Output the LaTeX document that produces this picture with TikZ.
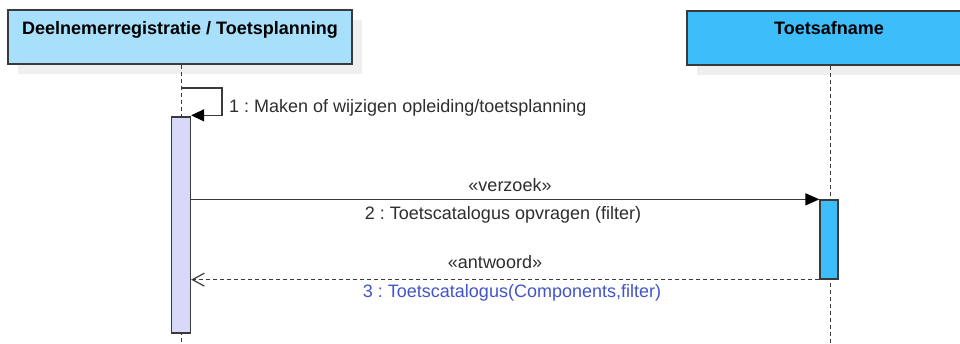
\documentclass[tikz,border=0pt]{standalone}
\usepackage{fontspec}
\setmainfont{Liberation Sans}
\usetikzlibrary{arrows.meta,shadows}
\definecolor{hdrA}{HTML}{A8E0FB}
\definecolor{hdrB}{HTML}{3DBDFA}
\definecolor{actAc}{HTML}{D8D8FA}
\definecolor{bordc}{HTML}{3A3A3A}
\definecolor{txtc}{HTML}{2E2E2E}
\definecolor{bluetxt}{HTML}{4355C8}
\definecolor{shadowc}{HTML}{EFEFEF}
\frenchspacing
\begin{document}
\begin{tikzpicture}[x=1pt,y=-1pt,
  hdr/.style={draw=bordc, line width=1.3pt, rectangle, inner sep=0pt,
    drop shadow={shadow xshift=10pt, shadow yshift=-10pt, fill=shadowc, opacity=1}},
  hdrtext/.style={font=\fontsize{18}{21}\selectfont\bfseries, text=black, inner sep=0pt, anchor=base},
  act/.style={draw=bordc, line width=1.3pt, rectangle, inner sep=0pt},
  lifeline/.style={draw=bordc, line width=1pt, dash pattern=on 4pt off 3pt},
  msg/.style={draw=bordc, line width=1.3pt},
  lbl/.style={font=\fontsize{18}{21}\selectfont, text=txtc, inner sep=0pt, anchor=base}
]
\useasboundingbox (0,0) rectangle (960,344);
\clip (0,0) rectangle (960,344);
\fill[white] (0,0) rectangle (960,344);

% headers
\node[hdr, fill=hdrA, minimum width=344pt, minimum height=54pt] (A) at (180,37) {};
\node[hdr, fill=hdrB, minimum width=286pt, minimum height=54pt] (B) at (830,38) {};
\node[hdrtext] (At) at (180,34.3) {Deelnemerregistratie / Toetsplanning};
\node[hdrtext] (Bt) at (829,34.3) {Toetsafname};

% lifelines
\coordinate (Aend) at (181,344);
\coordinate (Bend) at (830,344);
\draw[lifeline] (A.south -| Aend) -- (Aend);
\draw[lifeline] (B.south -| Bend) -- (Bend);

% activations
\node[act, fill=actAc, minimum width=19pt, minimum height=216pt] (actA) at (181,225) {};
\node[act, fill=hdrB, minimum width=18pt, minimum height=79pt] (actB) at (829,239.5) {};

% message 1 (self)
\coordinate (s1) at (181,88);
\draw[msg, -{Triangle[length=13pt,width=12pt,fill=black,color=black]}] (s1) -- (222,88) |- ([yshift=1pt]actA.north east);
\node[lbl, anchor=base west] (m1) at (229,112.5) {1 : Maken of wijzigen opleiding/toetsplanning};

% message 2
\draw[msg, -{Triangle[length=14pt,width=12pt,fill=black,color=black]}] (actA.east |- actB.north west) -- (actB.north west);
\node[lbl] (m2s) at (510,191.7) {«verzoek»};
\node[lbl] (m2) at (503,220) {2 : Toetscatalogus opvragen (filter)};

% message 3 (return)
\draw[msg, line width=1pt, dash pattern=on 4pt off 3pt, -{Straight Barb[length=12pt,width=13pt,line width=1.2pt]}] (actB.south west) -- (actA.east |- actB.south west);
\node[lbl] (m3s) at (495,269) {«antwoord»};
\node[lbl, text=bluetxt] (m3) at (512,298) {3 : Toetscatalogus(Components,filter)};
\end{tikzpicture}
\end{document}
